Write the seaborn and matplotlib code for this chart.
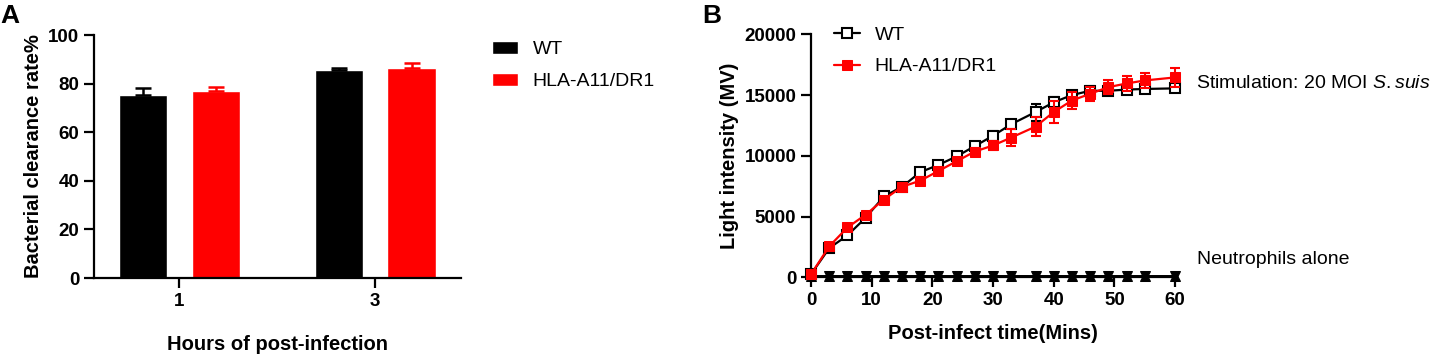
import numpy as np
import pandas as pd
import matplotlib
matplotlib.use('Agg')
import matplotlib.pyplot as plt
import seaborn as sns

# Panel A data
hours = ['1', '3']
groups = ['WT', 'HLA-A11/DR1']
wt_rate = [75.4, 85.5]
wt_rate_sd = [2.7, 0.8]
hla_rate = [76.8, 86.4]
hla_rate_sd = [1.7, 2.2]

# Panel B data
minutes = [0, 3, 6, 9, 12, 15, 18, 21, 24, 27, 30, 33, 37, 40, 43, 46, 49, 52, 55, 60]
wt_light = [250, 2400, 3450, 4900, 6650, 7450, 8650, 9250, 9950, 10800,
            11650, 12600, 13600, 14400, 15000, 15350, 15350, 15450, 15500, 15550]
wt_light_sd = [100, 200, 300, 200, 200, 200, 200, 200, 150, 250,
               400, 350, 700, 400, 300, 400, 300, 300, 250, 300]
hla_light = [250, 2550, 4100, 5150, 6400, 7450, 7950, 8750, 9550, 10350,
             10850, 11500, 12400, 13600, 14550, 15100, 15650, 15950, 16200, 16450]
hla_light_sd = [100, 200, 250, 200, 200, 200, 250, 250, 250, 300,
                400, 700, 800, 900, 700, 600, 600, 600, 650, 800]
alone_wt = [100] * len(minutes)
alone_hla = [80] * len(minutes)

colors = {'WT': 'black', 'HLA-A11/DR1': '#ff0000'}

sns.set_style('ticks')
plt.rcParams['font.family'] = ['Liberation Sans', 'DejaVu Sans']
plt.rcParams['mathtext.fontset'] = 'custom'
plt.rcParams['mathtext.rm'] = 'Liberation Sans'
plt.rcParams['mathtext.it'] = 'Liberation Sans:italic'
plt.rcParams['text.color'] = 'black'
plt.rcParams['axes.labelcolor'] = 'black'
plt.rcParams['axes.edgecolor'] = 'black'
plt.rcParams['xtick.color'] = 'black'
plt.rcParams['ytick.color'] = 'black'
plt.rcParams['axes.linewidth'] = 1.6
plt.rcParams['xtick.major.width'] = 1.6
plt.rcParams['ytick.major.width'] = 1.6
plt.rcParams['xtick.major.size'] = 7
plt.rcParams['ytick.major.size'] = 7

fig = plt.figure(figsize=(14.37, 3.55), dpi=100)
axA = fig.add_axes([0.0654, 0.2169, 0.2554, 0.6845])
axB = fig.add_axes([0.5644, 0.2189, 0.2533, 0.6845])

# ---- Panel A: bars ----
dfA = pd.DataFrame({
    'hour': hours * 2,
    'rate': wt_rate + hla_rate,
    'group': ['WT'] * 2 + ['HLA-A11/DR1'] * 2,
})
sns.barplot(data=dfA, x='hour', y='rate', hue='group', hue_order=groups,
            palette=colors, saturation=1, width=0.745, gap=0.34,
            errorbar=None, ax=axA)
sds = {'WT': wt_rate_sd, 'HLA-A11/DR1': hla_rate_sd}
for cont, g in zip(axA.containers, groups):
    for bar, sd in zip(cont, sds[g]):
        xc = bar.get_x() + bar.get_width() / 2
        axA.errorbar(xc, bar.get_height(), yerr=[[0], [sd]], fmt='none',
                     ecolor=colors[g], elinewidth=1.8, capsize=6, capthick=1.8)
axA.set_xlim(-0.436, 1.439)
axA.set_ylim(0, 100)
axA.set_yticks(range(0, 101, 20))
axA.set_xlabel('Hours of post-infection', fontsize=14.5, fontweight='bold', labelpad=18)
axA.set_ylabel('Bacterial clearance rate%', fontsize=14.5, fontweight='bold', labelpad=4)
axA.tick_params(labelsize=13.5)
for lab in axA.get_xticklabels() + axA.get_yticklabels():
    lab.set_fontweight('bold')
sns.despine(ax=axA)
sns.move_legend(axA, loc='upper left', bbox_to_anchor=(0.3424, 0.885),
                bbox_transform=fig.transFigure, frameon=False, title=None,
                fontsize=14, handlelength=1.34, handleheight=0.67,
                handletextpad=0.75, labelspacing=0.75, borderpad=0,
                borderaxespad=0)

# ---- Panel B: lines ----
axB.errorbar(minutes, wt_light, yerr=wt_light_sd, fmt='none', ecolor='black',
             elinewidth=1.5, capsize=3.5, capthick=1.5, clip_on=False, zorder=2)
sns.lineplot(x=minutes, y=wt_light, ax=axB, color='black', marker='s', ms=7.5,
             mfc='white', mec='black', mew=1.5, lw=1.6, clip_on=False,
             label='WT', zorder=3)
axB.errorbar(minutes, hla_light, yerr=hla_light_sd, fmt='none', ecolor='#ff0000',
             elinewidth=1.5, capsize=3.5, capthick=1.5, clip_on=False, zorder=4)
sns.lineplot(x=minutes, y=hla_light, ax=axB, color='#ff0000', marker='s', ms=7.5,
             mfc='#ff0000', mec='#ff0000', lw=1.6, clip_on=False,
             label='HLA-A11/DR1', zorder=5)
sns.lineplot(x=minutes, y=alone_wt, ax=axB, color='black', marker='v', ms=7.5,
             mec='black', lw=2, clip_on=False, zorder=3, legend=False)
sns.lineplot(x=minutes, y=alone_hla, ax=axB, color='black', marker='^', ms=7.5,
             mec='black', lw=2, clip_on=False, zorder=3, legend=False)
axB.set_xlim(0, 60)
axB.set_ylim(0, 20000)
axB.set_xticks(range(0, 61, 10))
axB.set_yticks(range(0, 20001, 5000))
axB.set_xlabel('Post-infect time(Mins)', fontsize=14.5, fontweight='bold', labelpad=11)
axB.set_ylabel('Light intensity (MV)', fontsize=14.5, fontweight='bold', labelpad=4)
axB.tick_params(labelsize=13.5)
for lab in axB.get_xticklabels() + axB.get_yticklabels():
    lab.set_fontweight('bold')
sns.despine(ax=axB)
handles, labels = axB.get_legend_handles_labels()
axB.legend(handles[:2], labels[:2], loc='upper left', bbox_to_anchor=(0.5804, 0.925),
           bbox_transform=fig.transFigure, frameon=False, fontsize=14,
           handlelength=1.34, handletextpad=0.75, labelspacing=0.7,
           borderpad=0, borderaxespad=0)

fig.text(1196 / 1437, 1 - 83 / 355, 'Stimulation: 20 MOI $\\mathit{S.suis}$',
         fontsize=14, va='center', ha='left')
fig.text(1197 / 1437, 1 - 259 / 355, 'Neutrophils alone',
         fontsize=14, va='center', ha='left')

fig.text(0.0, 1 - 4 / 355, 'A', fontsize=19, fontweight='bold', va='top', ha='left')
fig.text(702 / 1437, 1 - 4 / 355, 'B', fontsize=19, fontweight='bold', va='top', ha='left')

fig.savefig('out.png', dpi=100)
